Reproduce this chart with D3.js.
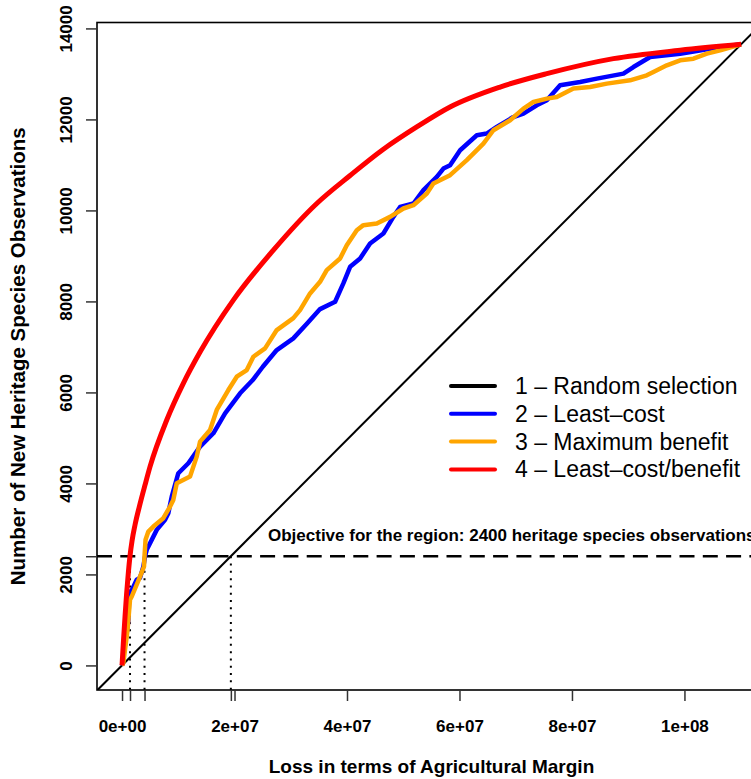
<!DOCTYPE html>
<html>
<head>
<meta charset="utf-8">
<script src="https://cdn.jsdelivr.net/npm/d3@7"></script>
<style>
    body { margin: 0; background: #fff; }
    svg { font-family: "Liberation Sans", Arial, Helvetica, sans-serif; }
</style>
</head>
<body>
<svg id="chart"></svg>
<script>

// cost values in millions (agricultural margin lost), obs = new heritage species observations
var randomCost = [0, 110.08];
var randomObs = [0, 13650];

var leastCostCost = [0, 0.53, 1.12, 1.30, 1.78, 2.61, 3.20, 3.79, 4.09, 4.39, 4.98, 6.17, 7.65, 8.23, 8.84,
    10.01, 11.79, 13.87, 16.24, 18.32, 20.99, 23.24, 25.03, 27.51, 30.46, 32.90, 35.21, 37.89, 39.35,
    40.55, 42.33, 44.10, 46.47, 48.24, 49.44, 51.81, 53.59, 55.97, 57.14, 58.33, 60.11, 63.08, 64.85,
    66.63, 69.58, 71.37, 73.74, 75.53, 77.89, 81.45, 84.42, 89.15, 90.93, 93.90, 99.24, 104.57, 110.08];
var leastCostObs = [0, 454, 959, 1596, 1662, 1882, 1925, 2174, 2393, 2540, 2687, 2979, 3199, 3346, 3710,
    4224, 4444, 4808, 5102, 5541, 5981, 6272, 6564, 6931, 7188, 7517, 7831, 7992, 8396,
    8760, 8944, 9274, 9493, 9858, 10077, 10152, 10444, 10736, 10920, 10993, 11322, 11652, 11689,
    11834, 12053, 12128, 12310, 12420, 12749, 12822, 12896, 13006, 13151, 13371, 13445, 13555, 13650];

var maxBenefitCost = [0, 0.23, 0.98, 1.42, 1.73, 3.20, 3.91, 4.00, 4.18, 4.68, 5.57, 7.34, 8.54, 9.12, 9.73,
    12.09, 13.28, 13.87, 15.65, 16.84, 18.90, 20.40, 22.18, 23.35, 25.43, 27.51, 30.46, 31.65, 33.43,
    35.21, 36.40, 38.77, 39.96, 41.74, 42.91, 45.30, 47.66, 50.03, 51.81, 54.19, 55.36, 58.33, 61.30,
    64.25, 66.03, 69.00, 71.37, 73.15, 75.53, 77.31, 80.26, 83.23, 86.20, 90.33, 93.30, 94.48, 96.86,
    99.24, 101.60, 103.99, 106.35, 110.08];
var maxBenefitObs = [0, 53, 784, 1442, 1515, 1954, 2174, 2408, 2760, 2942, 3052, 3236, 3491, 3638, 4005,
    4150, 4589, 4918, 5175, 5614, 6053, 6345, 6492, 6784, 6968, 7370, 7634, 7809, 8176,
    8431, 8688, 8944, 9236, 9566, 9676, 9713, 9858, 10042, 10115, 10372, 10591, 10775, 11104,
    11469, 11762, 11981, 12238, 12383, 12457, 12492, 12677, 12712, 12787, 12859, 12969, 13041, 13188,
    13298, 13335, 13445, 13518, 13650];

var lcbCost = [0, 0.27, 0.53, 0.80, 1.12, 1.42, 1.78, 2.31, 3.20, 4.09, 4.98, 7.95, 10.90, 13.87, 19.79,
    26.91, 34.63, 40.55, 46.47, 52.40, 58.32, 67.22, 75.53, 87.37, 99.24, 110.08];
var lcbObs = [0, 564, 1069, 1552, 2035, 2408, 2738, 3089, 3550, 3967, 4369, 5394, 6200, 6887, 8029,
    9127, 10152, 10767, 11344, 11834, 12273, 12712, 13006, 13336, 13520, 13650];

// objective and the cost at which each strategy reaches it
var objective = 2400;
var objectiveCost = [1.42, 4.0, 19.35];

var xTicks = [0, 2e7, 4e7, 6e7, 8e7, 1e8];
var xTickLabels = ["0e+00", "2e+07", "4e+07", "6e+07", "8e+07", "1e+08"];
var yTicks = [0, 2000, 4000, 6000, 8000, 10000, 12000, 14000];

var legendLabels = ["1 \u2013 Random selection", "2 \u2013 Least\u2013cost", "3 \u2013 Maximum benefit", "4 \u2013 Least\u2013cost/benefit"];
var legendColors = ["black", "#0000ff", "#ffa500", "#ff0000"];

var dimensions = {
    width: 751,
    height: 779,
    margin: {
        top: 22.5,
        bottom: 89,
        right: -15,
        left: 97
    }
}

var svg = d3.select("#chart")
    .attr("width", dimensions.width)
    .attr("height", dimensions.height)

var plotRight = dimensions.width - dimensions.margin.right
var plotBottom = dimensions.height - dimensions.margin.bottom

var xScale = d3.scaleLinear()
    .domain([-4.45e6, 114.5e6])
    .range([dimensions.margin.left, plotRight])

var yScale = d3.scaleLinear()
    .domain([-540, 14130])
    .range([plotBottom, dimensions.margin.top])

svg.append("clipPath")
    .attr("id", "plotclip")
    .append("rect")
    .attr("x", dimensions.margin.left)
    .attr("y", dimensions.margin.top)
    .attr("width", plotRight - dimensions.margin.left)
    .attr("height", plotBottom - dimensions.margin.top)

var plot = svg.append("g").attr("clip-path", "url(#plotclip)")

function toPoints(costs, obs) {
    return costs.map(function(c, i) { return [c * 1e6, obs[i]]; });
}

var line = d3.line()
    .x(function(d) { return xScale(d[0]); })
    .y(function(d) { return yScale(d[1]); })

// random selection: straight line through origin and end point (abline)
var slope = randomObs[1] / (randomCost[1] * 1e6)
var xd = xScale.domain()
plot.append("path")
    .attr("d", line([[xd[0], xd[0] * slope], [xd[1], xd[1] * slope]]))
    .attr("fill", "none")
    .attr("stroke", "black")
    .attr("stroke-width", 2)

// objective line
plot.append("line")
    .attr("x1", xScale(xd[0])).attr("x2", xScale(xd[1]))
    .attr("y1", yScale(objective)).attr("y2", yScale(objective))
    .attr("stroke", "black")
    .attr("stroke-width", 2.5)
    .attr("stroke-dasharray", "15,8.3")

// dotted drop lines
plot.selectAll(".drop")
    .data(objectiveCost)
    .enter()
    .append("line")
    .attr("x1", function(d) { return xScale(d * 1e6); })
    .attr("x2", function(d) { return xScale(d * 1e6); })
    .attr("y1", yScale(objective))
    .attr("y2", yScale(yScale.domain()[0]))
    .attr("stroke", "black")
    .attr("stroke-width", 2)
    .attr("stroke-dasharray", "2,5.3")

var series = [
    {pts: toPoints(leastCostCost, leastCostObs), color: legendColors[1], w: 4.5, curve: d3.curveLinear},
    {pts: toPoints(maxBenefitCost, maxBenefitObs), color: legendColors[2], w: 4.5, curve: d3.curveLinear},
    {pts: toPoints(lcbCost, lcbObs), color: legendColors[3], w: 5, curve: d3.curveMonotoneX}
]

plot.selectAll(".curve")
    .data(series)
    .enter()
    .append("path")
    .attr("d", function(d) { return line.curve(d.curve)(d.pts); })
    .attr("fill", "none")
    .attr("stroke", function(d) { return d.color; })
    .attr("stroke-width", function(d) { return d.w; })
    .attr("stroke-linejoin", "round")

plot.append("text")
    .attr("x", 268)
    .attr("y", 541)
    .attr("font-size", 17)
    .attr("font-weight", "bold")
    .text("Objective for the region: 2400 heritage species observations")

// box
svg.append("rect")
    .attr("x", dimensions.margin.left)
    .attr("y", dimensions.margin.top)
    .attr("width", plotRight - dimensions.margin.left)
    .attr("height", plotBottom - dimensions.margin.top)
    .attr("fill", "none")
    .attr("stroke", "black")
    .attr("stroke-width", 1.6)

// x axis
var xAxis = d3.axisBottom(xScale)
    .tickValues(xTicks)
    .tickSize(11)
    .tickSizeOuter(0)
    .tickFormat(function(d, i) { return xTickLabels[i]; })

var gx = svg.append("g")
    .attr("transform", "translate(0," + plotBottom + ")")
    .call(xAxis)
gx.select(".domain").remove()
gx.selectAll("text")
    .attr("y", 41.5).attr("dy", null)
    .attr("fill", "black")
    .attr("font-size", 17).attr("font-weight", "bold")
    .attr("font-family", "Liberation Sans, Arial, sans-serif")
gx.selectAll("line").attr("stroke", "#333").attr("stroke-width", 1.5)

// extra unlabeled ticks where strategies reach the objective
var gx2 = svg.append("g")
    .attr("transform", "translate(0," + plotBottom + ")")
    .call(d3.axisBottom(xScale).tickValues(objectiveCost.map(function(c) { return c * 1e6; })).tickSize(11).tickSizeOuter(0).tickFormat(""))
gx2.select(".domain").remove()
gx2.selectAll("line").attr("stroke", "#333").attr("stroke-width", 1.5)

// y axis
var yAxis = d3.axisLeft(yScale)
    .tickValues(yTicks)
    .tickSize(11)
    .tickSizeOuter(0)
    .tickFormat(d3.format("d"))

var gy = svg.append("g")
    .attr("transform", "translate(" + dimensions.margin.left + ",0)")
    .call(yAxis)
gy.select(".domain").remove()
gy.selectAll("text")
    .attr("transform", "rotate(-90)")
    .attr("x", 0).attr("y", -25).attr("dy", null)
    .attr("text-anchor", "middle")
    .attr("fill", "black")
    .attr("font-size", 17).attr("font-weight", "bold")
    .attr("font-family", "Liberation Sans, Arial, sans-serif")
gy.selectAll("line").attr("stroke", "#333").attr("stroke-width", 1.5)

var gy2 = svg.append("g")
    .attr("transform", "translate(" + dimensions.margin.left + ",0)")
    .call(d3.axisLeft(yScale).tickValues([objective]).tickSize(11).tickSizeOuter(0).tickFormat(""))
gy2.select(".domain").remove()
gy2.selectAll("line").attr("stroke", "#333").attr("stroke-width", 1.5)

// axis titles
svg.append("text")
    .attr("x", (dimensions.margin.left + plotRight) / 2)
    .attr("y", 773)
    .attr("text-anchor", "middle")
    .attr("font-size", 19)
    .attr("font-weight", "bold")
    .text("Loss in terms of Agricultural Margin")

svg.append("text")
    .attr("transform", "translate(25," + ((dimensions.margin.top + plotBottom) / 2) + ") rotate(-90)")
    .attr("text-anchor", "middle")
    .attr("font-size", 20.5)
    .attr("font-weight", "bold")
    .text("Number of New Heritage Species Observations")

// legend
var legend = svg.append("g")
    .selectAll("g")
    .data(legendLabels)
    .enter()
    .append("g")
    .attr("transform", function(d, i) { return "translate(451," + (386 + i * 27.8) + ")"; })

legend.append("line")
    .attr("x1", 0).attr("x2", 44)
    .attr("y1", 0).attr("y2", 0)
    .attr("stroke", function(d, i) { return legendColors[i]; })
    .attr("stroke-width", 4)
    .attr("stroke-linecap", "round")

legend.append("text")
    .attr("x", 64)
    .attr("y", 8)
    .attr("font-size", 23)
    .text(function(d) { return d; })

</script>
</body>
</html>
